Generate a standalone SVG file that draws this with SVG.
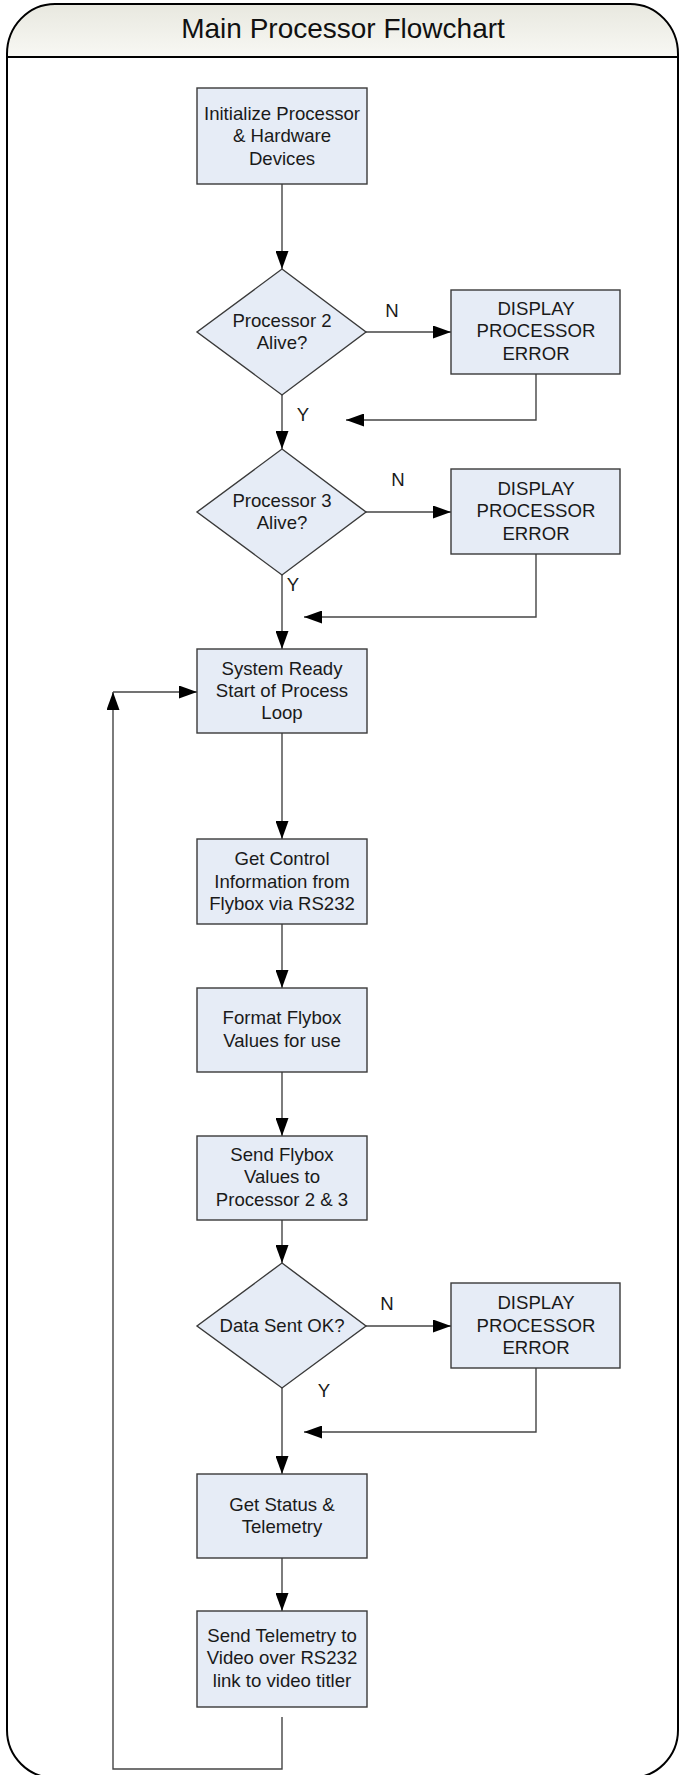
<svg xmlns="http://www.w3.org/2000/svg" width="680" height="1775" viewBox="0 0 680 1775">
<defs>
<linearGradient id="hdr" x1="0" y1="0" x2="0" y2="1">
<stop offset="0" stop-color="#E8E8DF"/>
<stop offset="1" stop-color="#F8F8F4"/>
</linearGradient>
<marker id="arr" markerUnits="userSpaceOnUse" markerWidth="18" markerHeight="13" refX="18" refY="6.5" orient="auto">
<path d="M0,0 L18,6.5 L0,13 Z" fill="#000"/>
</marker>
<style>
.box{fill:#E6ECF6;stroke:#3a3a3a;stroke-width:1.4}
.t{font-family:"Liberation Sans",Arial,sans-serif;font-size:18.6px;fill:#1a1a1a;text-anchor:middle}
.lbl{font-family:"Liberation Sans",Arial,sans-serif;font-size:18.6px;fill:#1a1a1a;text-anchor:middle}
.c{fill:none;stroke:#454545;stroke-width:1.4}
.ca{fill:none;stroke:#454545;stroke-width:1.4;marker-end:url(#arr)}
</style>
</defs>
<rect width="680" height="1775" fill="#fff"/>
<g id="frame">
<path d="M7,57 L7,54 A48,50 0 0 1 55,4 L630,4 A48,50 0 0 1 678,54 L678,57 Z" fill="url(#hdr)"/>
<path d="M7,1730 L7,54 A48,50 0 0 1 55,4 L630,4 A48,50 0 0 1 678,54 L678,1730 A48,48 0 0 1 630,1778 L55,1778 A48,48 0 0 1 7,1730 Z" fill="none" stroke="#000" stroke-width="2"/>
<line x1="7" y1="57" x2="678" y2="57" stroke="#000" stroke-width="2.2"/>
<text x="343" y="38" font-family="'Liberation Sans',Arial,sans-serif" font-size="28" fill="#111" text-anchor="middle">Main Processor Flowchart</text>
</g>
<g id="connectors">
<line class="ca" x1="282" y1="184" x2="282" y2="269"/>
<line class="ca" x1="366" y1="332" x2="451" y2="332"/>
<polyline class="ca" points="536,374 536,420 346,420"/>
<line class="ca" x1="282" y1="395" x2="282" y2="449"/>
<line class="ca" x1="366" y1="512" x2="451" y2="512"/>
<polyline class="ca" points="536,554 536,617 304,617"/>
<line class="ca" x1="282" y1="575" x2="282" y2="649"/>
<line class="ca" x1="282" y1="733" x2="282" y2="839"/>
<line class="ca" x1="282" y1="924" x2="282" y2="988"/>
<line class="ca" x1="282" y1="1072" x2="282" y2="1136"/>
<line class="ca" x1="282" y1="1220" x2="282" y2="1263"/>
<line class="ca" x1="366" y1="1326" x2="451" y2="1326"/>
<polyline class="ca" points="536,1368 536,1432 304,1432"/>
<line class="ca" x1="282" y1="1388" x2="282" y2="1474"/>
<line class="ca" x1="282" y1="1558" x2="282" y2="1611"/>
<polyline class="ca" points="282,1717 282,1769 113,1769 113,692"/>
<line class="ca" x1="113" y1="692" x2="197" y2="692"/>
<text class="lbl" x="392" y="317">N</text>
<text class="lbl" x="303" y="421">Y</text>
<text class="lbl" x="398" y="486">N</text>
<text class="lbl" x="293" y="591">Y</text>
<text class="lbl" x="387" y="1310">N</text>
<text class="lbl" x="324" y="1397">Y</text>
</g>
<g id="n_init">
<rect class="box" x="197" y="88" width="170" height="96"/>
<text class="t" x="282" y="120">Initialize Processor</text>
<text class="t" x="282" y="142">&amp; Hardware</text>
<text class="t" x="282" y="165">Devices</text>
</g>
<g id="d_p2">
<polygon class="box" points="282,269 366,332 282,395 197,332"/>
<text class="t" x="282" y="327">Processor 2</text>
<text class="t" x="282" y="349">Alive?</text>
</g>
<g id="n_err1">
<rect class="box" x="451" y="290" width="169" height="84"/>
<text class="t" x="536" y="315">DISPLAY</text>
<text class="t" x="536" y="337">PROCESSOR</text>
<text class="t" x="536" y="360">ERROR</text>
</g>
<g id="d_p3">
<polygon class="box" points="282,449 366,512 282,575 197,512"/>
<text class="t" x="282" y="507">Processor 3</text>
<text class="t" x="282" y="529">Alive?</text>
</g>
<g id="n_err2">
<rect class="box" x="451" y="469" width="169" height="85"/>
<text class="t" x="536" y="495">DISPLAY</text>
<text class="t" x="536" y="517">PROCESSOR</text>
<text class="t" x="536" y="540">ERROR</text>
</g>
<g id="n_ready">
<rect class="box" x="197" y="649" width="170" height="84"/>
<text class="t" x="282" y="675">System Ready</text>
<text class="t" x="282" y="697">Start of Process</text>
<text class="t" x="282" y="719">Loop</text>
</g>
<g id="n_getctl">
<rect class="box" x="197" y="839" width="170" height="85"/>
<text class="t" x="282" y="865">Get Control</text>
<text class="t" x="282" y="888">Information from</text>
<text class="t" x="282" y="910">Flybox via RS232</text>
</g>
<g id="n_format">
<rect class="box" x="197" y="988" width="170" height="84"/>
<text class="t" x="282" y="1024">Format Flybox</text>
<text class="t" x="282" y="1047">Values for use</text>
</g>
<g id="n_send">
<rect class="box" x="197" y="1136" width="170" height="84"/>
<text class="t" x="282" y="1161">Send Flybox</text>
<text class="t" x="282" y="1183">Values to</text>
<text class="t" x="282" y="1206">Processor 2 &amp; 3</text>
</g>
<g id="d_sent">
<polygon class="box" points="282,1263 366,1326 282,1388 197,1326"/>
<text class="t" x="282" y="1332">Data Sent OK?</text>
</g>
<g id="n_err3">
<rect class="box" x="451" y="1283" width="169" height="85"/>
<text class="t" x="536" y="1309">DISPLAY</text>
<text class="t" x="536" y="1332">PROCESSOR</text>
<text class="t" x="536" y="1354">ERROR</text>
</g>
<g id="n_status">
<rect class="box" x="197" y="1474" width="170" height="84"/>
<text class="t" x="282" y="1511">Get Status &amp;</text>
<text class="t" x="282" y="1533">Telemetry</text>
</g>
<g id="n_telem">
<rect class="box" x="197" y="1611" width="170" height="96"/>
<text class="t" x="282" y="1642">Send Telemetry to</text>
<text class="t" x="282" y="1664">Video over RS232</text>
<text class="t" x="282" y="1687">link to video titler</text>
</g>
</svg>
